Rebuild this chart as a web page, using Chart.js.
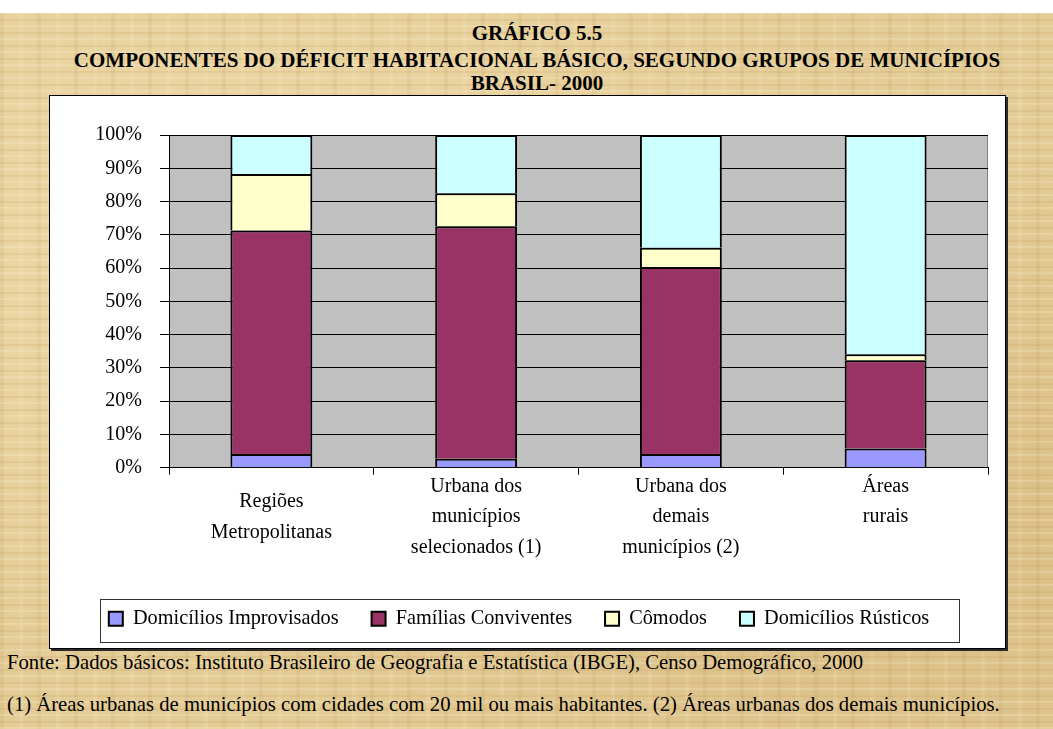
<!DOCTYPE html>
<html lang="pt">
<head>
<meta charset="UTF-8">
<title>Gráfico 5.5 - Déficit habitacional básico</title>
<script src="https://cdn.jsdelivr.net/npm/chart.js@4.4.1/dist/chart.umd.min.js"></script>
<style>
  body { margin: 0; width: 1053px; height: 729px; background: #fff; overflow: hidden;
         font-family: "Liberation Serif", "Times New Roman", serif; color: #000; }
  .papel { position: absolute; left: 0; top: 13px; width: 1053px; height: 716px;
           background-color: #e4cc96;
           background-image:
             repeating-linear-gradient(0deg, rgba(255,250,225,0.18) 0 2px, rgba(0,0,0,0) 2px 6px, rgba(160,115,45,0.10) 6px 8px, rgba(0,0,0,0) 8px 13px),
             repeating-linear-gradient(90deg, rgba(140,95,30,0.07) 0 4px, rgba(0,0,0,0) 4px 19px, rgba(255,245,215,0.12) 19px 23px, rgba(0,0,0,0) 23px 37px),
             radial-gradient(ellipse at 20% 30%, rgba(255,240,200,0.35), rgba(0,0,0,0) 60%),
             radial-gradient(ellipse at 85% 75%, rgba(170,125,55,0.18), rgba(0,0,0,0) 55%); }
  .titulo { position: absolute; left: 0; width: 1074px; text-align: center; font-weight: bold;
            font-size: 21px; line-height: 22px; white-space: nowrap; }
  .caixa { position: absolute; left: 49px; top: 95px; width: 955px; height: 552px; background: #fff;
           border: 1px solid #000; box-shadow: 2px 2px 0 #2a2a2a; }
  .caixa canvas { position: absolute; left: 0; top: 0; }
  .nota { position: absolute; left: 7px; font-size: 20.7px; line-height: 22px; white-space: nowrap; }
</style>
</head>
<body>
<div class="papel"></div>
<div class="titulo" style="top:22px">GRÁFICO 5.5</div>
<div class="titulo" style="top:49px">COMPONENTES DO DÉFICIT HABITACIONAL BÁSICO, SEGUNDO GRUPOS DE MUNICÍPIOS</div>
<div class="titulo" style="top:72px">BRASIL- 2000</div>
<div class="caixa"><canvas id="grafico" width="955" height="552"></canvas></div>
<div class="nota" style="top:651px">Fonte: Dados básicos: Instituto Brasileiro de Geografia e Estatística (IBGE), Censo Demográfico, 2000</div>
<div class="nota" style="top:693px">(1) Áreas urbanas de municípios com cidades com 20 mil ou mais habitantes. (2) Áreas urbanas dos demais municípios.</div>

<script>
// grupos de municípios (rótulos em várias linhas, como no original)
const grupos = [
  ["Regiões", "Metropolitanas"],
  ["Urbana dos", "municípios", "selecionados (1)"],
  ["Urbana dos", "demais", "municípios (2)"],
  ["Áreas", "rurais", ""]
];

// participação de cada componente no déficit (%)
const improvisados = [4.1, 2.7, 4.1, 5.8];
const conviventes  = [67.2, 69.9, 56.2, 26.5];
const comodos      = [17.0, 9.9, 5.8, 1.8];
const rusticos     = [11.7, 17.5, 33.9, 65.9];

const nomesSeries = ["Domicílios Improvisados", "Famílias Conviventes", "Cômodos", "Domicílios Rústicos"];
const coresSeries = ["#9999ff", "#993366", "#ffffcc", "#ccffff"];

Chart.defaults.font.family = '"Liberation Serif", "Times New Roman", serif';
Chart.defaults.font.size = 20;
Chart.defaults.color = "#000";

// fundo cinza da área de plotagem
const fundoPlot = {
  id: "fundoPlot",
  beforeDraw(chart) {
    const { ctx, chartArea: a } = chart;
    ctx.save();
    ctx.fillStyle = "#c0c0c0";
    ctx.fillRect(a.left, a.top, a.right - a.left, a.bottom - a.top);
    ctx.strokeStyle = "#808080";
    ctx.lineWidth = 1;
    ctx.beginPath();
    ctx.moveTo(a.right - 0.5, a.top);
    ctx.lineTo(a.right - 0.5, a.bottom);
    ctx.stroke();
    ctx.restore();
  }
};

// moldura em volta da legenda
const caixaLegenda = {
  id: "caixaLegenda",
  afterDraw(chart) {
    const hb = chart.legend.legendHitBoxes;
    if (!hb || !hb.length) return;
    const esq = Math.min(...hb.map(b => b.left)) - 9;
    const dir = Math.max(...hb.map(b => b.left + b.width)) + 30;
    const meio = hb[0].top + hb[0].height / 2;
    const ctx = chart.ctx;
    ctx.save();
    ctx.strokeStyle = "#333";
    ctx.lineWidth = 1;
    ctx.strokeRect(Math.round(esq) + 0.5, Math.round(meio - 20) + 0.5, Math.round(dir - esq), 43);
    ctx.restore();
  }
};

const series = [improvisados, conviventes, comodos, rusticos];

new Chart(document.getElementById("grafico"), {
  type: "bar",
  data: {
    labels: grupos,
    datasets: series.map((valores, i) => ({
      label: nomesSeries[i],
      data: valores,
      backgroundColor: coresSeries[i],
      borderColor: "#000",
      borderWidth: 2,
      categoryPercentage: 1,
      barPercentage: 0.4
    }))
  },
  options: {
    responsive: false,
    animation: false,
    devicePixelRatio: 1,
    layout: { padding: { top: 39, right: 17, bottom: 9, left: 0 } },
    plugins: {
      tooltip: { enabled: false },
      legend: {
        position: "bottom",
        labels: { boxWidth: 14, boxHeight: 14, padding: 33, font: { size: 20.3 } }
      }
    },
    scales: {
      x: {
        stacked: true,
        grid: { drawOnChartArea: false, drawTicks: true, tickLength: 7, color: "#000", offset: true },
        border: { color: "#000", width: 1 },
        ticks: { maxRotation: 0, autoSkip: false, crossAlign: "center", padding: 12,
                 font: { size: 20, lineHeight: 1.52 } },
        afterFit(scale) { scale.height = 108; }
      },
      y: {
        stacked: true,
        min: 0,
        max: 100,
        grid: { color: "#000", lineWidth: 1, tickLength: 9 },
        border: { color: "#000", width: 1 },
        ticks: { stepSize: 10, padding: 18, callback: v => v + "%", font: { size: 20 } },
        afterFit(scale) { scale.width = 119; }
      }
    }
  },
  plugins: [fundoPlot, caixaLegenda]
});
</script>
</body>
</html>
